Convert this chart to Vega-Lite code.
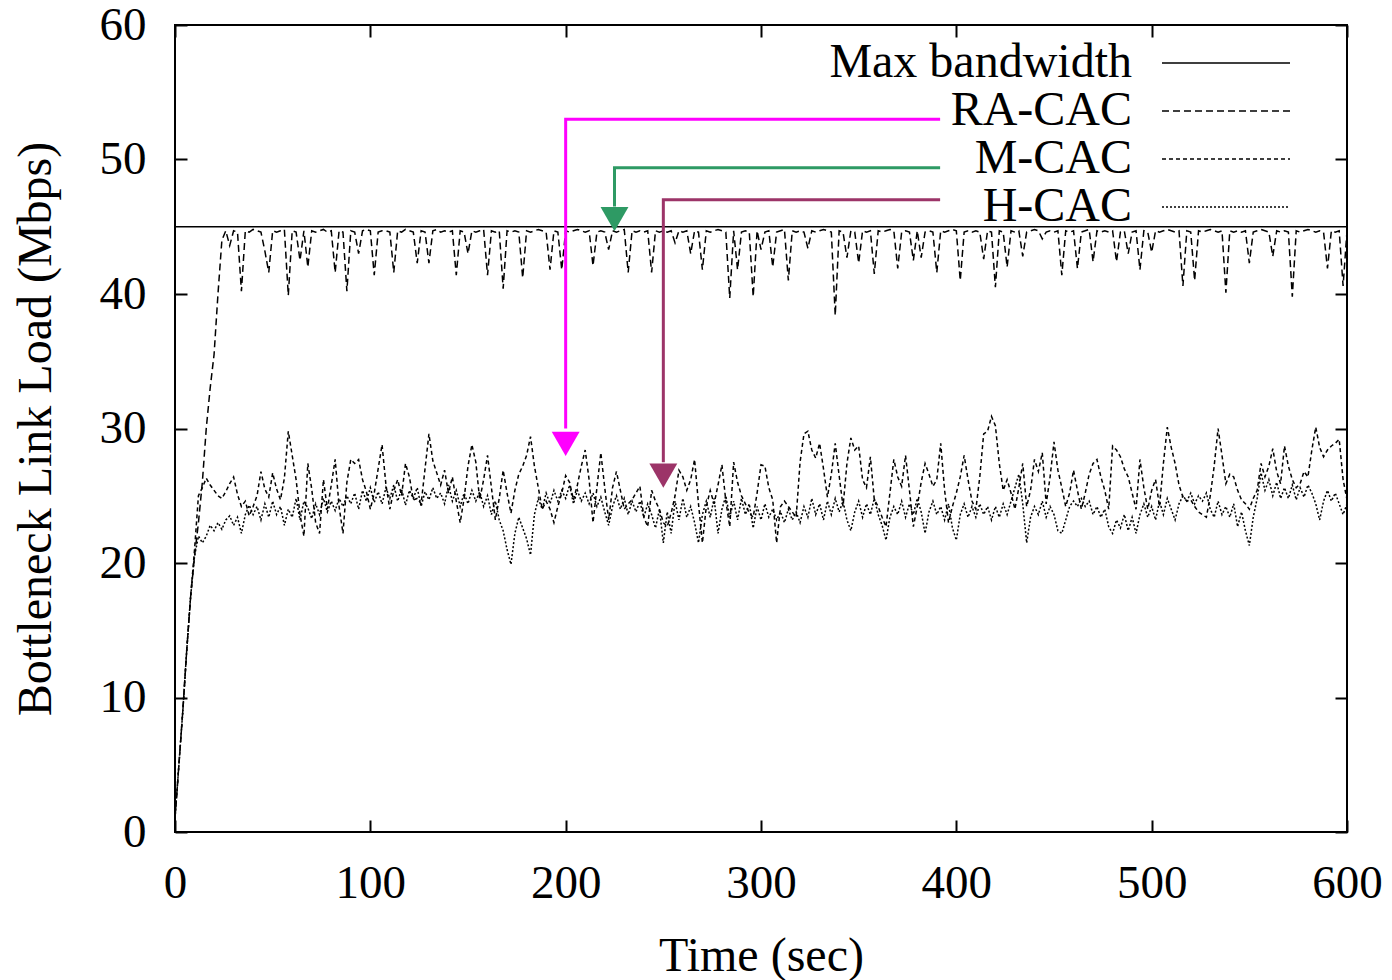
{
"$schema": "https://vega.github.io/schema/vega-lite/v6.json",
"width": 1172, "height": 807,
"autosize": {"type": "none"},
"padding": {"left": 175, "top": 25, "right": 45, "bottom": 148},
"background": "white",
"config": {
  "view": {"stroke": "black", "strokeWidth": 2},
  "font": "Liberation Serif",
  "axis": {"labelFont": "Liberation Serif", "titleFont": "Liberation Serif", "labelFontSize": 47, "titleFontSize": 48, "titleFontWeight": "normal", "labelColor": "black", "titleColor": "black", "tickColor": "black", "tickWidth": 2, "grid": false, "domain": false, "labelFlush": false, "labelOverlap": false}
},
"layer": [
{
  "data": {"values": [
{"t":0,"RA-CAC":1,"M-CAC":1,"H-CAC":1},
{"t":2,"RA-CAC":5,"M-CAC":5,"H-CAC":5},
{"t":4,"RA-CAC":9,"M-CAC":9,"H-CAC":9},
{"t":6,"RA-CAC":13.5,"M-CAC":13.5,"H-CAC":13.5},
{"t":8,"RA-CAC":17.5,"M-CAC":17.5,"H-CAC":17.5},
{"t":10,"RA-CAC":20.5,"M-CAC":21,"H-CAC":20.5},
{"t":12,"RA-CAC":23,"M-CAC":25,"H-CAC":22},
{"t":14,"RA-CAC":26,"M-CAC":25.6,"H-CAC":21.5},
{"t":16,"RA-CAC":30,"M-CAC":26.3,"H-CAC":22},
{"t":18,"RA-CAC":33,"M-CAC":25.8,"H-CAC":22.8},
{"t":20,"RA-CAC":35.5,"M-CAC":25.4,"H-CAC":22.4},
{"t":22,"RA-CAC":40,"M-CAC":25,"H-CAC":23},
{"t":24,"RA-CAC":44,"M-CAC":24.8,"H-CAC":22.5},
{"t":26,"RA-CAC":44.7,"M-CAC":25.3,"H-CAC":23.2},
{"t":28,"RA-CAC":43.6,"M-CAC":25.9,"H-CAC":23.5},
{"t":30,"RA-CAC":44.7,"M-CAC":26.4,"H-CAC":22.8},
{"t":32,"RA-CAC":44.6,"M-CAC":25.1,"H-CAC":23.4},
{"t":34,"RA-CAC":40.2,"M-CAC":24.2,"H-CAC":22.2},
{"t":36,"RA-CAC":44.7,"M-CAC":24.6,"H-CAC":23.6},
{"t":38,"RA-CAC":44.6,"M-CAC":23.5,"H-CAC":24.3},
{"t":40,"RA-CAC":44.8,"M-CAC":24.2,"H-CAC":23.6},
{"t":42,"RA-CAC":44.7,"M-CAC":25,"H-CAC":24.2},
{"t":44,"RA-CAC":44.6,"M-CAC":26.8,"H-CAC":23.2},
{"t":46,"RA-CAC":43.2,"M-CAC":25.5,"H-CAC":24.4},
{"t":48,"RA-CAC":41.6,"M-CAC":24.9,"H-CAC":23.4},
{"t":50,"RA-CAC":44.7,"M-CAC":26.7,"H-CAC":24.6},
{"t":52,"RA-CAC":44.6,"M-CAC":25.5,"H-CAC":23.6},
{"t":54,"RA-CAC":44.7,"M-CAC":24.7,"H-CAC":24.2},
{"t":56,"RA-CAC":44.8,"M-CAC":26.3,"H-CAC":22.8},
{"t":58,"RA-CAC":39.9,"M-CAC":29.8,"H-CAC":24},
{"t":60,"RA-CAC":44.7,"M-CAC":28,"H-CAC":23.4},
{"t":62,"RA-CAC":44.6,"M-CAC":26.2,"H-CAC":24.8},
{"t":64,"RA-CAC":42.5,"M-CAC":23.6,"H-CAC":23.2},
{"t":66,"RA-CAC":44.7,"M-CAC":22,"H-CAC":24.6},
{"t":68,"RA-CAC":42,"M-CAC":27.4,"H-CAC":24.1},
{"t":70,"RA-CAC":44.7,"M-CAC":25.5,"H-CAC":23.3},
{"t":72,"RA-CAC":44.6,"M-CAC":23,"H-CAC":24.4},
{"t":74,"RA-CAC":44.7,"M-CAC":22.2,"H-CAC":23.6},
{"t":76,"RA-CAC":44.8,"M-CAC":26.2,"H-CAC":24.8},
{"t":78,"RA-CAC":44.6,"M-CAC":24,"H-CAC":23.8},
{"t":80,"RA-CAC":44.7,"M-CAC":25.8,"H-CAC":24.6},
{"t":82,"RA-CAC":41.6,"M-CAC":27.7,"H-CAC":23.9},
{"t":84,"RA-CAC":44.7,"M-CAC":24.2,"H-CAC":24.8},
{"t":86,"RA-CAC":44.6,"M-CAC":22.2,"H-CAC":24.2},
{"t":88,"RA-CAC":40.2,"M-CAC":26,"H-CAC":25},
{"t":90,"RA-CAC":44.7,"M-CAC":27.7,"H-CAC":24.4},
{"t":92,"RA-CAC":44.6,"M-CAC":27.4,"H-CAC":25.2},
{"t":94,"RA-CAC":43,"M-CAC":27.7,"H-CAC":24},
{"t":96,"RA-CAC":44.7,"M-CAC":26.2,"H-CAC":25.4},
{"t":98,"RA-CAC":44.8,"M-CAC":25.3,"H-CAC":24.6},
{"t":100,"RA-CAC":44.7,"M-CAC":24,"H-CAC":25.6},
{"t":102,"RA-CAC":41.4,"M-CAC":25.2,"H-CAC":24.5},
{"t":104,"RA-CAC":44.6,"M-CAC":27,"H-CAC":25.3},
{"t":106,"RA-CAC":44.7,"M-CAC":28.8,"H-CAC":24.4},
{"t":108,"RA-CAC":44.7,"M-CAC":25.8,"H-CAC":25.6},
{"t":110,"RA-CAC":44.6,"M-CAC":24,"H-CAC":24.8},
{"t":112,"RA-CAC":41.6,"M-CAC":25.4,"H-CAC":25.8},
{"t":114,"RA-CAC":44.7,"M-CAC":26.2,"H-CAC":24.6},
{"t":116,"RA-CAC":44.6,"M-CAC":25,"H-CAC":25.5},
{"t":118,"RA-CAC":44.8,"M-CAC":27.4,"H-CAC":24.3},
{"t":120,"RA-CAC":44.7,"M-CAC":26.4,"H-CAC":25.4},
{"t":122,"RA-CAC":44.6,"M-CAC":24.7,"H-CAC":24.8},
{"t":124,"RA-CAC":42.3,"M-CAC":24.8,"H-CAC":25.6},
{"t":126,"RA-CAC":44.7,"M-CAC":24.4,"H-CAC":24.2},
{"t":128,"RA-CAC":44.6,"M-CAC":27,"H-CAC":25.3},
{"t":130,"RA-CAC":42.3,"M-CAC":29.6,"H-CAC":24.7},
{"t":132,"RA-CAC":44.7,"M-CAC":27.6,"H-CAC":25.6},
{"t":134,"RA-CAC":44.8,"M-CAC":26.7,"H-CAC":24.8},
{"t":136,"RA-CAC":44.6,"M-CAC":25.8,"H-CAC":25.2},
{"t":138,"RA-CAC":44.7,"M-CAC":26.9,"H-CAC":24.4},
{"t":140,"RA-CAC":44.6,"M-CAC":25.2,"H-CAC":25.8},
{"t":142,"RA-CAC":44.7,"M-CAC":26.4,"H-CAC":24.6},
{"t":144,"RA-CAC":41.4,"M-CAC":24.6,"H-CAC":25.4},
{"t":146,"RA-CAC":44.7,"M-CAC":23,"H-CAC":24.2},
{"t":148,"RA-CAC":44.6,"M-CAC":24.8,"H-CAC":25.2},
{"t":150,"RA-CAC":43,"M-CAC":27.2,"H-CAC":24.4},
{"t":152,"RA-CAC":44.7,"M-CAC":28.8,"H-CAC":25.4},
{"t":154,"RA-CAC":44.6,"M-CAC":27.5,"H-CAC":24.6},
{"t":156,"RA-CAC":44.7,"M-CAC":24.7,"H-CAC":25.3},
{"t":158,"RA-CAC":44.8,"M-CAC":26.2,"H-CAC":24.2},
{"t":160,"RA-CAC":41.4,"M-CAC":28,"H-CAC":25},
{"t":162,"RA-CAC":44.7,"M-CAC":25.6,"H-CAC":23.6},
{"t":164,"RA-CAC":44.6,"M-CAC":23.2,"H-CAC":24.6},
{"t":166,"RA-CAC":44.7,"M-CAC":24.8,"H-CAC":23.2},
{"t":168,"RA-CAC":40.4,"M-CAC":26.9,"H-CAC":22.4},
{"t":170,"RA-CAC":44.7,"M-CAC":25.2,"H-CAC":21},
{"t":172,"RA-CAC":44.6,"M-CAC":23.7,"H-CAC":19.9},
{"t":174,"RA-CAC":44.7,"M-CAC":25.4,"H-CAC":22.2},
{"t":176,"RA-CAC":44.6,"M-CAC":26.6,"H-CAC":23.4},
{"t":178,"RA-CAC":41.2,"M-CAC":27.2,"H-CAC":22.6},
{"t":180,"RA-CAC":44.7,"M-CAC":28,"H-CAC":21.8},
{"t":182,"RA-CAC":44.6,"M-CAC":29.4,"H-CAC":20.6},
{"t":184,"RA-CAC":44.7,"M-CAC":27.2,"H-CAC":23.6},
{"t":186,"RA-CAC":44.8,"M-CAC":25.6,"H-CAC":24.8},
{"t":188,"RA-CAC":44.7,"M-CAC":24,"H-CAC":24},
{"t":190,"RA-CAC":44.6,"M-CAC":24.6,"H-CAC":25.2},
{"t":192,"RA-CAC":41.8,"M-CAC":24,"H-CAC":24.4},
{"t":194,"RA-CAC":44.7,"M-CAC":23,"H-CAC":25.4},
{"t":196,"RA-CAC":44.6,"M-CAC":24.2,"H-CAC":24.6},
{"t":198,"RA-CAC":41.8,"M-CAC":25.2,"H-CAC":25.4},
{"t":200,"RA-CAC":44.7,"M-CAC":26.5,"H-CAC":24.8},
{"t":202,"RA-CAC":44.6,"M-CAC":26,"H-CAC":25.8},
{"t":204,"RA-CAC":44.7,"M-CAC":24.7,"H-CAC":24.4},
{"t":206,"RA-CAC":44.8,"M-CAC":25.8,"H-CAC":25.4},
{"t":208,"RA-CAC":44.7,"M-CAC":27.2,"H-CAC":24.6},
{"t":210,"RA-CAC":44.6,"M-CAC":28.4,"H-CAC":25.2},
{"t":212,"RA-CAC":44.7,"M-CAC":26.2,"H-CAC":24.4},
{"t":214,"RA-CAC":42.1,"M-CAC":23,"H-CAC":25.2},
{"t":216,"RA-CAC":44.6,"M-CAC":25.6,"H-CAC":24.2},
{"t":218,"RA-CAC":44.7,"M-CAC":28.2,"H-CAC":24.9},
{"t":220,"RA-CAC":44.6,"M-CAC":25.6,"H-CAC":23.8},
{"t":222,"RA-CAC":43.3,"M-CAC":23.2,"H-CAC":22.8},
{"t":224,"RA-CAC":44.7,"M-CAC":25.6,"H-CAC":24.2},
{"t":226,"RA-CAC":44.6,"M-CAC":26.8,"H-CAC":25},
{"t":228,"RA-CAC":44.7,"M-CAC":25.4,"H-CAC":24},
{"t":230,"RA-CAC":44.8,"M-CAC":24,"H-CAC":24.8},
{"t":232,"RA-CAC":41.6,"M-CAC":24.4,"H-CAC":23.6},
{"t":234,"RA-CAC":44.7,"M-CAC":24.7,"H-CAC":24.6},
{"t":236,"RA-CAC":44.6,"M-CAC":25.2,"H-CAC":23.8},
{"t":238,"RA-CAC":44.7,"M-CAC":25.7,"H-CAC":24.6},
{"t":240,"RA-CAC":44.6,"M-CAC":23.4,"H-CAC":23.4},
{"t":242,"RA-CAC":44.7,"M-CAC":22.7,"H-CAC":24.4},
{"t":244,"RA-CAC":41.6,"M-CAC":25.4,"H-CAC":23.6},
{"t":246,"RA-CAC":44.7,"M-CAC":24.6,"H-CAC":22.6},
{"t":248,"RA-CAC":44.6,"M-CAC":24,"H-CAC":24},
{"t":250,"RA-CAC":44.7,"M-CAC":23,"H-CAC":21.5},
{"t":252,"RA-CAC":44.6,"M-CAC":22.7,"H-CAC":23.8},
{"t":254,"RA-CAC":44.7,"M-CAC":23.7,"H-CAC":22.2},
{"t":256,"RA-CAC":43.8,"M-CAC":25,"H-CAC":24.6},
{"t":258,"RA-CAC":44.7,"M-CAC":26.9,"H-CAC":23.2},
{"t":260,"RA-CAC":44.6,"M-CAC":26.4,"H-CAC":24.8},
{"t":262,"RA-CAC":44.7,"M-CAC":25.4,"H-CAC":23.4},
{"t":264,"RA-CAC":43,"M-CAC":26.2,"H-CAC":24.2},
{"t":266,"RA-CAC":44.7,"M-CAC":27.7,"H-CAC":23},
{"t":268,"RA-CAC":44.6,"M-CAC":24.4,"H-CAC":21.5},
{"t":270,"RA-CAC":41.8,"M-CAC":21.5,"H-CAC":23.6},
{"t":272,"RA-CAC":44.7,"M-CAC":24.2,"H-CAC":24.6},
{"t":274,"RA-CAC":44.6,"M-CAC":25.4,"H-CAC":23.4},
{"t":276,"RA-CAC":44.7,"M-CAC":24.4,"H-CAC":24.8},
{"t":278,"RA-CAC":44.8,"M-CAC":25.8,"H-CAC":22.2},
{"t":280,"RA-CAC":44.7,"M-CAC":27.3,"H-CAC":24},
{"t":282,"RA-CAC":44.6,"M-CAC":24.6,"H-CAC":25},
{"t":284,"RA-CAC":39.7,"M-CAC":22.7,"H-CAC":23.4},
{"t":286,"RA-CAC":44.7,"M-CAC":27.5,"H-CAC":24.6},
{"t":288,"RA-CAC":41.8,"M-CAC":26,"H-CAC":23.2},
{"t":290,"RA-CAC":44.6,"M-CAC":25,"H-CAC":24.8},
{"t":292,"RA-CAC":44.7,"M-CAC":24.4,"H-CAC":23.6},
{"t":294,"RA-CAC":44.6,"M-CAC":23.7,"H-CAC":24.4},
{"t":296,"RA-CAC":39.8,"M-CAC":23.4,"H-CAC":22.6},
{"t":298,"RA-CAC":44.7,"M-CAC":25.2,"H-CAC":24.2},
{"t":300,"RA-CAC":43.3,"M-CAC":27.3,"H-CAC":23.2},
{"t":302,"RA-CAC":44.6,"M-CAC":27.2,"H-CAC":24.4},
{"t":304,"RA-CAC":44.7,"M-CAC":25.6,"H-CAC":23.4},
{"t":306,"RA-CAC":42,"M-CAC":24.7,"H-CAC":24},
{"t":308,"RA-CAC":44.6,"M-CAC":21.5,"H-CAC":23.2},
{"t":310,"RA-CAC":44.7,"M-CAC":24.2,"H-CAC":23.8},
{"t":312,"RA-CAC":44.8,"M-CAC":24.6,"H-CAC":23},
{"t":314,"RA-CAC":41,"M-CAC":24.2,"H-CAC":24},
{"t":316,"RA-CAC":44.7,"M-CAC":23.8,"H-CAC":23.2},
{"t":318,"RA-CAC":44.6,"M-CAC":23.4,"H-CAC":23.8},
{"t":320,"RA-CAC":44.7,"M-CAC":27.5,"H-CAC":23},
{"t":322,"RA-CAC":44.6,"M-CAC":29.6,"H-CAC":24.2},
{"t":324,"RA-CAC":43.4,"M-CAC":29.8,"H-CAC":23.4},
{"t":326,"RA-CAC":44.7,"M-CAC":28.4,"H-CAC":24.8},
{"t":328,"RA-CAC":44.6,"M-CAC":27.8,"H-CAC":23.6},
{"t":330,"RA-CAC":44.7,"M-CAC":28.9,"H-CAC":24.4},
{"t":332,"RA-CAC":44.8,"M-CAC":27,"H-CAC":23.2},
{"t":334,"RA-CAC":44.7,"M-CAC":24.9,"H-CAC":24.6},
{"t":336,"RA-CAC":44.6,"M-CAC":26.6,"H-CAC":23.6},
{"t":338,"RA-CAC":38.4,"M-CAC":28.9,"H-CAC":24.8},
{"t":340,"RA-CAC":44.7,"M-CAC":26.5,"H-CAC":23.8},
{"t":342,"RA-CAC":44.6,"M-CAC":24.2,"H-CAC":24.6},
{"t":344,"RA-CAC":42.7,"M-CAC":27.4,"H-CAC":23.2},
{"t":346,"RA-CAC":44.7,"M-CAC":29.3,"H-CAC":22.4},
{"t":348,"RA-CAC":44.6,"M-CAC":28.4,"H-CAC":23.8},
{"t":350,"RA-CAC":42.3,"M-CAC":28.7,"H-CAC":24.6},
{"t":352,"RA-CAC":44.7,"M-CAC":26.2,"H-CAC":23.4},
{"t":354,"RA-CAC":44.6,"M-CAC":25.6,"H-CAC":24.4},
{"t":356,"RA-CAC":44.7,"M-CAC":27.9,"H-CAC":23.6},
{"t":358,"RA-CAC":41.5,"M-CAC":24.7,"H-CAC":24.8},
{"t":360,"RA-CAC":44.7,"M-CAC":24.2,"H-CAC":23.6},
{"t":362,"RA-CAC":44.6,"M-CAC":23.4,"H-CAC":22.8},
{"t":364,"RA-CAC":44.7,"M-CAC":22.7,"H-CAC":21.7},
{"t":366,"RA-CAC":44.8,"M-CAC":25.2,"H-CAC":23.4},
{"t":368,"RA-CAC":44.7,"M-CAC":27.7,"H-CAC":24.2},
{"t":370,"RA-CAC":41.9,"M-CAC":26.4,"H-CAC":23.6},
{"t":372,"RA-CAC":44.6,"M-CAC":25.7,"H-CAC":24.6},
{"t":374,"RA-CAC":44.7,"M-CAC":28,"H-CAC":23.4},
{"t":376,"RA-CAC":44.6,"M-CAC":25.4,"H-CAC":24.4},
{"t":378,"RA-CAC":42.5,"M-CAC":22.7,"H-CAC":23.6},
{"t":380,"RA-CAC":44.7,"M-CAC":24.2,"H-CAC":24.8},
{"t":382,"RA-CAC":42.7,"M-CAC":26,"H-CAC":23.8},
{"t":384,"RA-CAC":44.6,"M-CAC":27.4,"H-CAC":22.2},
{"t":386,"RA-CAC":44.7,"M-CAC":26.6,"H-CAC":23.8},
{"t":388,"RA-CAC":44.6,"M-CAC":25.7,"H-CAC":24.6},
{"t":390,"RA-CAC":41.6,"M-CAC":26.2,"H-CAC":23.6},
{"t":392,"RA-CAC":44.7,"M-CAC":28.9,"H-CAC":24.2},
{"t":394,"RA-CAC":44.6,"M-CAC":25.4,"H-CAC":23.2},
{"t":396,"RA-CAC":44.7,"M-CAC":23,"H-CAC":24.4},
{"t":398,"RA-CAC":44.8,"M-CAC":24.2,"H-CAC":22.6},
{"t":400,"RA-CAC":44.7,"M-CAC":25.2,"H-CAC":21.7},
{"t":402,"RA-CAC":41,"M-CAC":26.4,"H-CAC":23.6},
{"t":404,"RA-CAC":44.6,"M-CAC":28,"H-CAC":24.4},
{"t":406,"RA-CAC":44.7,"M-CAC":26.2,"H-CAC":23.4},
{"t":408,"RA-CAC":44.6,"M-CAC":24.6,"H-CAC":24.2},
{"t":410,"RA-CAC":44.7,"M-CAC":24,"H-CAC":23.4},
{"t":412,"RA-CAC":44.6,"M-CAC":26.4,"H-CAC":24.4},
{"t":414,"RA-CAC":42.6,"M-CAC":29.6,"H-CAC":23.6},
{"t":416,"RA-CAC":44.7,"M-CAC":29.8,"H-CAC":24.2},
{"t":418,"RA-CAC":44.6,"M-CAC":30.9,"H-CAC":23.2},
{"t":420,"RA-CAC":40.5,"M-CAC":30.2,"H-CAC":24.2},
{"t":422,"RA-CAC":44.7,"M-CAC":27.4,"H-CAC":23.4},
{"t":424,"RA-CAC":44.6,"M-CAC":25.4,"H-CAC":24.4},
{"t":426,"RA-CAC":42,"M-CAC":26.2,"H-CAC":23.6},
{"t":428,"RA-CAC":44.7,"M-CAC":25.2,"H-CAC":24.6},
{"t":430,"RA-CAC":44.6,"M-CAC":24,"H-CAC":25.6},
{"t":432,"RA-CAC":44.7,"M-CAC":25.6,"H-CAC":26.6},
{"t":434,"RA-CAC":42.8,"M-CAC":27.4,"H-CAC":24.4},
{"t":436,"RA-CAC":44.6,"M-CAC":24.2,"H-CAC":21.5},
{"t":438,"RA-CAC":44.7,"M-CAC":25.4,"H-CAC":23.4},
{"t":440,"RA-CAC":44.8,"M-CAC":27.7,"H-CAC":24.2},
{"t":442,"RA-CAC":44.7,"M-CAC":26.8,"H-CAC":23.6},
{"t":444,"RA-CAC":44.1,"M-CAC":28.2,"H-CAC":24.6},
{"t":446,"RA-CAC":44.6,"M-CAC":24.4,"H-CAC":23.4},
{"t":448,"RA-CAC":44.7,"M-CAC":26.4,"H-CAC":24.2},
{"t":450,"RA-CAC":44.6,"M-CAC":29,"H-CAC":23.6},
{"t":452,"RA-CAC":44.7,"M-CAC":26.9,"H-CAC":22.4},
{"t":454,"RA-CAC":41.4,"M-CAC":25.6,"H-CAC":22.2},
{"t":456,"RA-CAC":44.7,"M-CAC":24.2,"H-CAC":23.2},
{"t":458,"RA-CAC":44.6,"M-CAC":25.2,"H-CAC":24.2},
{"t":460,"RA-CAC":44.7,"M-CAC":26.9,"H-CAC":24.6},
{"t":462,"RA-CAC":41.9,"M-CAC":25.4,"H-CAC":24.2},
{"t":464,"RA-CAC":44.6,"M-CAC":24,"H-CAC":24.8},
{"t":466,"RA-CAC":44.7,"M-CAC":25.2,"H-CAC":24.2},
{"t":468,"RA-CAC":44.8,"M-CAC":26.6,"H-CAC":24.6},
{"t":470,"RA-CAC":42.4,"M-CAC":27.4,"H-CAC":23.6},
{"t":472,"RA-CAC":44.7,"M-CAC":27.7,"H-CAC":24.2},
{"t":474,"RA-CAC":44.6,"M-CAC":26.4,"H-CAC":23.4},
{"t":476,"RA-CAC":44.7,"M-CAC":25.4,"H-CAC":24},
{"t":478,"RA-CAC":44.6,"M-CAC":24,"H-CAC":22.7},
{"t":480,"RA-CAC":44.7,"M-CAC":28.7,"H-CAC":22.2},
{"t":482,"RA-CAC":42.4,"M-CAC":28.4,"H-CAC":23.2},
{"t":484,"RA-CAC":44.6,"M-CAC":27.9,"H-CAC":22.6},
{"t":486,"RA-CAC":44.7,"M-CAC":27,"H-CAC":23.6},
{"t":488,"RA-CAC":43,"M-CAC":26.4,"H-CAC":22.4},
{"t":490,"RA-CAC":44.6,"M-CAC":25.2,"H-CAC":23.4},
{"t":492,"RA-CAC":44.7,"M-CAC":24,"H-CAC":22.2},
{"t":494,"RA-CAC":41.8,"M-CAC":27.7,"H-CAC":23.6},
{"t":496,"RA-CAC":44.7,"M-CAC":25.6,"H-CAC":24.4},
{"t":498,"RA-CAC":44.6,"M-CAC":24,"H-CAC":23.4},
{"t":500,"RA-CAC":43.1,"M-CAC":25.4,"H-CAC":24.2},
{"t":502,"RA-CAC":44.7,"M-CAC":26.2,"H-CAC":23.2},
{"t":504,"RA-CAC":44.6,"M-CAC":24.2,"H-CAC":24.6},
{"t":506,"RA-CAC":44.7,"M-CAC":27.4,"H-CAC":23.6},
{"t":508,"RA-CAC":44.8,"M-CAC":30.1,"H-CAC":24.8},
{"t":510,"RA-CAC":44.7,"M-CAC":28.6,"H-CAC":24},
{"t":512,"RA-CAC":44.6,"M-CAC":27.4,"H-CAC":23.2},
{"t":514,"RA-CAC":44.7,"M-CAC":25.8,"H-CAC":24.4},
{"t":516,"RA-CAC":40.6,"M-CAC":24.9,"H-CAC":25},
{"t":518,"RA-CAC":44.7,"M-CAC":24.6,"H-CAC":24.6},
{"t":520,"RA-CAC":44.6,"M-CAC":24.7,"H-CAC":25.2},
{"t":522,"RA-CAC":41,"M-CAC":24.2,"H-CAC":24.4},
{"t":524,"RA-CAC":44.7,"M-CAC":23.8,"H-CAC":25},
{"t":526,"RA-CAC":44.6,"M-CAC":23.6,"H-CAC":24.6},
{"t":528,"RA-CAC":44.7,"M-CAC":23.4,"H-CAC":25.2},
{"t":530,"RA-CAC":44.8,"M-CAC":25,"H-CAC":24},
{"t":532,"RA-CAC":44.7,"M-CAC":27.2,"H-CAC":23.4},
{"t":534,"RA-CAC":44.6,"M-CAC":30,"H-CAC":24.6},
{"t":536,"RA-CAC":44.7,"M-CAC":28,"H-CAC":23.6},
{"t":538,"RA-CAC":40.1,"M-CAC":25.9,"H-CAC":24.2},
{"t":540,"RA-CAC":44.7,"M-CAC":26.6,"H-CAC":23.4},
{"t":542,"RA-CAC":44.6,"M-CAC":26.4,"H-CAC":24.4},
{"t":544,"RA-CAC":44.7,"M-CAC":25.4,"H-CAC":22.7},
{"t":546,"RA-CAC":44.6,"M-CAC":24.7,"H-CAC":23.8},
{"t":548,"RA-CAC":44.7,"M-CAC":24.4,"H-CAC":22.4},
{"t":550,"RA-CAC":42.3,"M-CAC":24,"H-CAC":21.3},
{"t":552,"RA-CAC":44.6,"M-CAC":24.8,"H-CAC":23.4},
{"t":554,"RA-CAC":44.7,"M-CAC":25.4,"H-CAC":24.8},
{"t":556,"RA-CAC":44.8,"M-CAC":27.4,"H-CAC":26.7},
{"t":558,"RA-CAC":44.7,"M-CAC":26.4,"H-CAC":25.4},
{"t":560,"RA-CAC":44.6,"M-CAC":27.2,"H-CAC":26.2},
{"t":562,"RA-CAC":42.8,"M-CAC":28.5,"H-CAC":25},
{"t":564,"RA-CAC":44.7,"M-CAC":26.8,"H-CAC":26},
{"t":566,"RA-CAC":44.6,"M-CAC":25.9,"H-CAC":24.8},
{"t":568,"RA-CAC":44.7,"M-CAC":28.7,"H-CAC":25.6},
{"t":570,"RA-CAC":44.6,"M-CAC":27.2,"H-CAC":24.8},
{"t":572,"RA-CAC":39.8,"M-CAC":26.2,"H-CAC":25.8},
{"t":574,"RA-CAC":44.7,"M-CAC":25.6,"H-CAC":24.7},
{"t":576,"RA-CAC":44.6,"M-CAC":25.9,"H-CAC":25.6},
{"t":578,"RA-CAC":44.7,"M-CAC":26.8,"H-CAC":24.9},
{"t":580,"RA-CAC":44.8,"M-CAC":26.4,"H-CAC":25.8},
{"t":582,"RA-CAC":44.7,"M-CAC":28.4,"H-CAC":25.2},
{"t":584,"RA-CAC":44.6,"M-CAC":30.1,"H-CAC":24.4},
{"t":586,"RA-CAC":44.7,"M-CAC":28.6,"H-CAC":23.2},
{"t":588,"RA-CAC":44.6,"M-CAC":27.9,"H-CAC":24.6},
{"t":590,"RA-CAC":41.9,"M-CAC":28.4,"H-CAC":25.4},
{"t":592,"RA-CAC":44.7,"M-CAC":28.7,"H-CAC":24.6},
{"t":594,"RA-CAC":44.6,"M-CAC":28.9,"H-CAC":25.2},
{"t":596,"RA-CAC":44.7,"M-CAC":29.2,"H-CAC":24.4},
{"t":598,"RA-CAC":40.6,"M-CAC":26.2,"H-CAC":23.6},
{"t":600,"RA-CAC":44.7,"M-CAC":24.7,"H-CAC":24.4}
  ]},
  "transform": [{"fold": ["RA-CAC","M-CAC","H-CAC"], "as": ["s","v"]}],
  "mark": {"type": "line", "color": "black", "strokeWidth": 1.5},
  "encoding": {
    "x": {"field": "t", "type": "quantitative", "scale": {"domain": [0,600], "nice": false, "zero": false},
          "axis": {"orient": "bottom", "values": [0,100,200,300,400,500,600], "tickSize": -12, "labelPadding": 40, "title": "Time (sec)", "titlePadding": 26}},
    "y": {"field": "v", "type": "quantitative", "scale": {"domain": [0,60], "nice": false},
          "axis": {"orient": "left", "values": [0,10,20,30,40,50,60], "tickSize": -12, "labelPadding": 41, "title": "Bottleneck Link Load (Mbps)", "titlePadding": 39}},
    "strokeDash": {"field": "s", "type": "nominal",
      "scale": {"domain": ["Max bandwidth","RA-CAC","M-CAC","H-CAC"], "range": [[1,0],[7,4],[4,3],[2,2]]},
      "legend": {"orient": "none", "legendX": 1027, "legendY": 14, "title": null, "symbolType": "M-2.7826,0H2.7826", "symbolSize": 2116, "labelAlign": "right", "labelOffset": -118, "labelFontSize": 48, "labelFont": "Liberation Serif", "labelColor": "black", "labelLimit": 600, "rowPadding": 0, "symbolStrokeWidth": 1.3, "symbolStrokeColor": "black", "symbolFillColor": "transparent", "padding": 0}}
  }
},
{
  "data": {"values": [{"t":0,"v":45,"s":"Max bandwidth"},{"t":600,"v":45,"s":"Max bandwidth"}]},
  "mark": {"type": "line", "color": "black", "strokeWidth": 1.5},
  "encoding": {
    "x": {"field": "t", "type": "quantitative", "scale": {"domain": [0,600], "nice": false, "zero": false},
          "axis": {"orient": "top", "values": [0,100,200,300,400,500,600], "tickSize": -12, "labels": false, "title": null}},
    "y": {"field": "v", "type": "quantitative", "scale": {"domain": [0,60], "nice": false},
          "axis": {"orient": "right", "values": [0,10,20,30,40,50,60], "tickSize": -12, "labels": false, "title": null}},
    "strokeDash": {"field": "s", "type": "nominal"}
  }
},
{
  "data": {"values": [
    {"arrow":"RA-CAC","t":391.7,"v":52.99,"o":1},{"arrow":"RA-CAC","t":200,"v":52.99,"o":2},{"arrow":"RA-CAC","t":200,"v":30,"o":3},
    {"arrow":"M-CAC","t":391.7,"v":49.39,"o":1},{"arrow":"M-CAC","t":225,"v":49.39,"o":2},{"arrow":"M-CAC","t":225,"v":46.5,"o":3},
    {"arrow":"H-CAC","t":391.7,"v":47.0,"o":1},{"arrow":"H-CAC","t":250,"v":47.0,"o":2},{"arrow":"H-CAC","t":250,"v":27.5,"o":3}
  ]},
  "mark": {"type": "line", "strokeWidth": 3, "strokeCap": "butt", "strokeJoin": "miter"},
  "encoding": {
    "x": {"field": "t", "type": "quantitative", "axis": null},
    "y": {"field": "v", "type": "quantitative", "axis": null},
    "color": {"field": "arrow", "type": "nominal", "legend": null, "scale": {"domain": ["RA-CAC","M-CAC","H-CAC"], "range": ["#ff00ff","#2e9a64","#9c3468"]}},
    "detail": {"field": "arrow"},
    "order": {"field": "o", "type": "quantitative"}
  }
},
{
  "data": {"values": [
    {"arrow":"RA-CAC","t":200,"v":28.85},{"arrow":"M-CAC","t":225,"v":45.57},{"arrow":"H-CAC","t":250,"v":26.5}
  ]},
  "mark": {"type": "point", "shape": "triangle-down", "filled": true, "opacity": 1, "size": 780},
  "encoding": {
    "x": {"field": "t", "type": "quantitative", "axis": null},
    "y": {"field": "v", "type": "quantitative", "axis": null},
    "color": {"field": "arrow", "type": "nominal", "legend": null}
  }
}
]
}
